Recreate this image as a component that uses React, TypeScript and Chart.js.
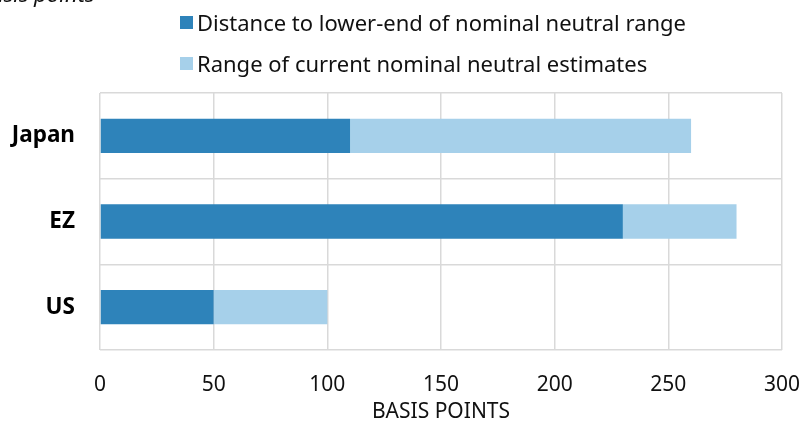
import React, { useEffect, useRef } from "react";
import { Chart, registerables } from "chart.js";

Chart.register(...registerables);

const categories = ["Japan", "EZ", "US"];
const distanceToLowerEnd = [110, 230, 50];
const rangeOfEstimates = [150, 50, 50];
const xTicks = [0, 50, 100, 150, 200, 250, 300];
const seriesNames = [
  "Distance to lower-end of nominal neutral range",
  "Range of current nominal neutral estimates",
];
const colors = ["#2E83BA", "#A6D0EA"];
const FONT = "'Noto Sans', 'Open Sans', sans-serif";

export default function App() {
  const ref = useRef<HTMLCanvasElement>(null);
  useEffect(() => {
    const ctx = ref.current!;
    const chart = new Chart(ctx, {
      type: "bar",
      data: {
        labels: categories,
        datasets: [
          { label: seriesNames[0], data: distanceToLowerEnd, backgroundColor: colors[0], barPercentage: 0.4, categoryPercentage: 1 },
          { label: seriesNames[1], data: rangeOfEstimates, backgroundColor: colors[1], barPercentage: 0.4, categoryPercentage: 1 },
        ],
      },
      options: {
        indexAxis: "y",
        animation: false,
        responsive: false,
        maintainAspectRatio: false,
        layout: { padding: { left: 0, right: 21, top: 93, bottom: 0 } },
        plugins: { legend: { display: false }, tooltip: { enabled: false } },
        scales: {
          x: {
            stacked: true,
            min: 0,
            max: 300,
            afterBuildTicks: (s: any) => {
              s.ticks = xTicks.map((v) => ({ value: v }));
            },
            grid: { color: "#d9d9d9", lineWidth: 1.5, drawTicks: false },
            border: { display: false },
            ticks: { padding: 22, color: "#111", font: { family: FONT, size: 21 } },
            title: { display: true, text: "BASIS POINTS", color: "#111", font: { family: FONT, size: 21 }, padding: { top: 0, bottom: 0 } },
            afterFit: (s: any) => {
              s.height = 75;
              s.paddingLeft = 0;
              s.paddingRight = 0;
            },
          },
          y: {
            stacked: true,
            grid: { color: "#d9d9d9", lineWidth: 1.5, drawTicks: false, offset: true },
            border: { display: false },
            ticks: { padding: 25, color: "#000", font: { family: FONT, size: 22.5, weight: "bold" } },
            afterFit: (s: any) => {
              s.width = 100;
            },
          },
        },
      },
    } as any);
    return () => chart.destroy();
  }, []);

  const legendItem = (i: number, top: number) => (
    <div style={{ position: "absolute", left: 180, top, display: "flex", alignItems: "center", fontFamily: FONT, fontSize: 22, color: "#111", whiteSpace: "nowrap", lineHeight: "26px" }}>
      <span style={{ display: "inline-block", width: 13, height: 13, background: colors[i], marginRight: 4 }} />
      {seriesNames[i]}
    </div>
  );

  return (
    <div style={{ position: "fixed", left: 0, top: 0, width: 803, height: 425, background: "#fff", overflow: "hidden" }}>
      <div style={{ position: "absolute", left: -22, top: -19, fontFamily: FONT, fontSize: 22, fontStyle: "italic", color: "#111", whiteSpace: "nowrap", lineHeight: "24px" }}>Basis points</div>
      {legendItem(0, 9)}
      {legendItem(1, 50)}
      <canvas ref={ref} width={803} height={425} style={{ display: "block" }} />
    </div>
  );
}
